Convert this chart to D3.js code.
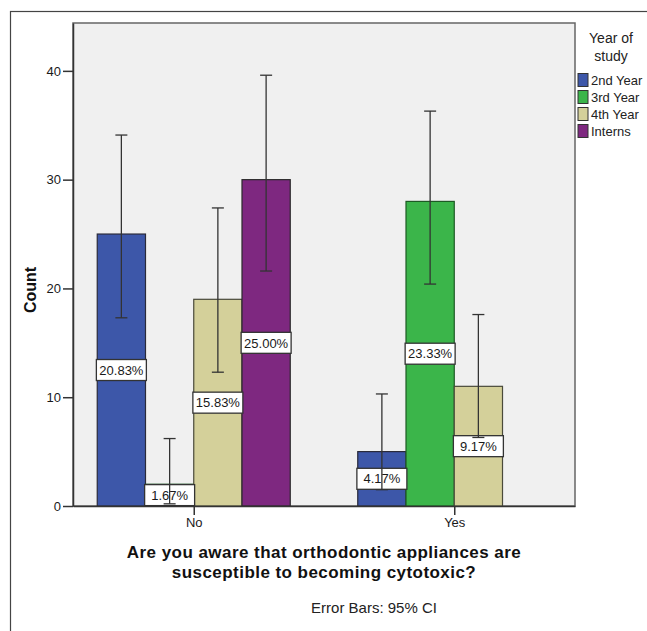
<!DOCTYPE html>
<html>
<head>
<meta charset="utf-8">
<script src="https://cdn.jsdelivr.net/npm/d3@7"></script>
<style>
body{margin:0;background:#fff;}
svg{display:block;font-family:Arial,"Liberation Sans",sans-serif;}
</style>
</head>
<body>
<svg id="chart" width="647" height="631"></svg>
<script>
const categories = ["No", "Yes"];
const seriesNames = ["2nd Year", "3rd Year", "4th Year", "Interns"];
const countsNo = [25, 2, 19, 30];
const countsYes = [5, 28, 11, 0];
const percentNo = ["20.83%", "1.67%", "15.83%", "25.00%"];
const percentYes = ["4.17%", "23.33%", "9.17%", ""];
const ciLowNo = [17.3, 0.2, 12.3, 21.6];
const ciHighNo = [34.1, 6.2, 27.4, 39.6];
const ciLowYes = [1.5, 20.4, 6.3, null];
const ciHighYes = [10.3, 36.3, 17.6, null];
const yTicks = [0, 10, 20, 30, 40];
const colors = ["#3D57A9", "#3BB54A", "#D4D09A", "#7E2880"];
const strokes = ["#2a2a3a", "#1d5a24", "#4a4a3a", "#2a2a2a"];

const svg = d3.select("#chart");
const pLeft = 73, pRight = 575, pTop = 23, pBottom = 506;

// outer frame
svg.append("rect").attr("x", 10.5).attr("y", 11.5).attr("width", 700).attr("height", 700)
  .attr("fill", "none").attr("stroke", "#444").attr("stroke-width", 1.2);

const x0 = d3.scalePoint().domain(categories).range([pLeft, pRight]).padding(0.4635);
const x1 = d3.scaleBand().domain(seriesNames).range([-96.5, 96.5]);
const y = d3.scaleLinear().domain([0, 44.4]).range([pBottom, pTop]);

svg.append("rect").attr("x", pLeft).attr("y", pTop).attr("width", pRight - pLeft).attr("height", pBottom - pTop)
  .attr("fill", "#F0F0F0").attr("stroke", "#666").attr("stroke-width", 1.5);

const rows = [];
categories.forEach((c, ci) => {
  const counts = ci === 0 ? countsNo : countsYes;
  const pct = ci === 0 ? percentNo : percentYes;
  const lo = ci === 0 ? ciLowNo : ciLowYes;
  const hi = ci === 0 ? ciHighNo : ciHighYes;
  seriesNames.forEach((s, si) => {
    rows.push({cat: c, s, si, v: counts[si], pct: pct[si], lo: lo[si], hi: hi[si]});
  });
});

const g = svg.append("g");
const bars = rows.filter(d => d.v > 0);
g.selectAll("rect.bar").data(bars).join("rect").attr("class", "bar")
  .attr("x", d => x0(d.cat) + x1(d.s))
  .attr("y", d => y(d.v))
  .attr("width", x1.bandwidth())
  .attr("height", d => y(0) - y(d.v))
  .attr("fill", d => colors[d.si])
  .attr("stroke", d => strokes[d.si]).attr("stroke-width", 1.2);

// axes
const yAxis = d3.axisLeft(y).tickValues(yTicks).tickSize(10).tickSizeOuter(0).tickPadding(2);
const ya = svg.append("g").attr("transform", `translate(${pLeft},0)`).call(yAxis);
ya.select(".domain").attr("stroke", "#333").attr("stroke-width", 1.5);
ya.selectAll(".tick line").attr("stroke", "#333").attr("stroke-width", 1.5);
ya.selectAll(".tick text").attr("font-size", 13).attr("fill", "#1a1a1a").attr("font-family", "Arial, 'Liberation Sans', sans-serif");

const xAxis = d3.axisBottom(x0).tickSize(9).tickSizeOuter(0).tickPadding(3);
const xa = svg.append("g").attr("transform", `translate(0,${pBottom})`).call(xAxis);
xa.select(".domain").attr("stroke", "#333").attr("stroke-width", 1.5);
xa.selectAll(".tick line").attr("stroke", "#333").attr("stroke-width", 1.5);
xa.selectAll(".tick text").attr("font-size", 13).attr("fill", "#1a1a1a").attr("font-family", "Arial, 'Liberation Sans', sans-serif");

// percentage labels
const lab = g.selectAll("g.lab").data(bars).join("g").attr("class", "lab")
  .attr("transform", d => `translate(${x0(d.cat) + x1(d.s) + x1.bandwidth()/2},${(y(d.v) + y(0))/2})`);
lab.append("rect").attr("x", -25).attr("y", -10.5).attr("width", 50).attr("height", 21)
  .attr("fill", "#fff").attr("stroke", "#333").attr("stroke-width", 1.3);
lab.append("text").attr("text-anchor", "middle").attr("dy", "0.36em").attr("font-size", 13)
  .attr("fill", "#1a1a1a").text(d => d.pct);

// error bars
const eb = g.selectAll("g.eb").data(rows.filter(d => d.hi != null)).join("g").attr("class", "eb")
  .attr("stroke", "#333").attr("stroke-width", 1.3);
const cx = d => x0(d.cat) + x1(d.s) + x1.bandwidth()/2;
eb.append("line").attr("x1", cx).attr("x2", cx).attr("y1", d => y(d.lo)).attr("y2", d => y(d.hi));
eb.append("line").attr("x1", d => cx(d) - 6).attr("x2", d => cx(d) + 6).attr("y1", d => y(d.hi)).attr("y2", d => y(d.hi));
eb.append("line").attr("x1", d => cx(d) - 6).attr("x2", d => cx(d) + 6).attr("y1", d => y(d.lo)).attr("y2", d => y(d.lo));

// y title
svg.append("text").attr("transform", "translate(36,290) rotate(-90)").attr("text-anchor", "middle")
  .attr("font-size", 16).attr("font-weight", "bold").attr("fill", "#111").text("Count");

// x title
const xt = svg.append("text").attr("text-anchor", "middle").attr("font-size", 17).attr("font-weight", "bold")
  .attr("letter-spacing", 0.45).attr("fill", "#111");
xt.append("tspan").attr("x", 324).attr("y", 558).text("Are you aware that orthodontic appliances are");
xt.append("tspan").attr("x", 324).attr("y", 578).text("susceptible to becoming cytotoxic?");

svg.append("text").attr("x", 374).attr("y", 613).attr("text-anchor", "middle").attr("font-size", 15)
  .attr("fill", "#222").text("Error Bars: 95% CI");

// legend
const lg = svg.append("g");
lg.append("text").attr("x", 611).attr("y", 43).attr("text-anchor", "middle").attr("font-size", 14).attr("fill", "#222").text("Year of");
lg.append("text").attr("x", 611).attr("y", 61).attr("text-anchor", "middle").attr("font-size", 14).attr("fill", "#222").text("study");
const li = lg.selectAll("g.li").data(seriesNames).join("g").attr("class", "li")
  .attr("transform", (d, i) => `translate(578,${80 + i * 17})`);
li.append("rect").attr("x", 0).attr("y", -6.5).attr("width", 10).attr("height", 13)
  .attr("fill", (d, i) => colors[i]).attr("stroke", "#333").attr("stroke-width", 1);
li.append("text").attr("x", 13).attr("dy", "0.36em").attr("font-size", 13).attr("fill", "#222").text(d => d);
</script>
</body>
</html>
